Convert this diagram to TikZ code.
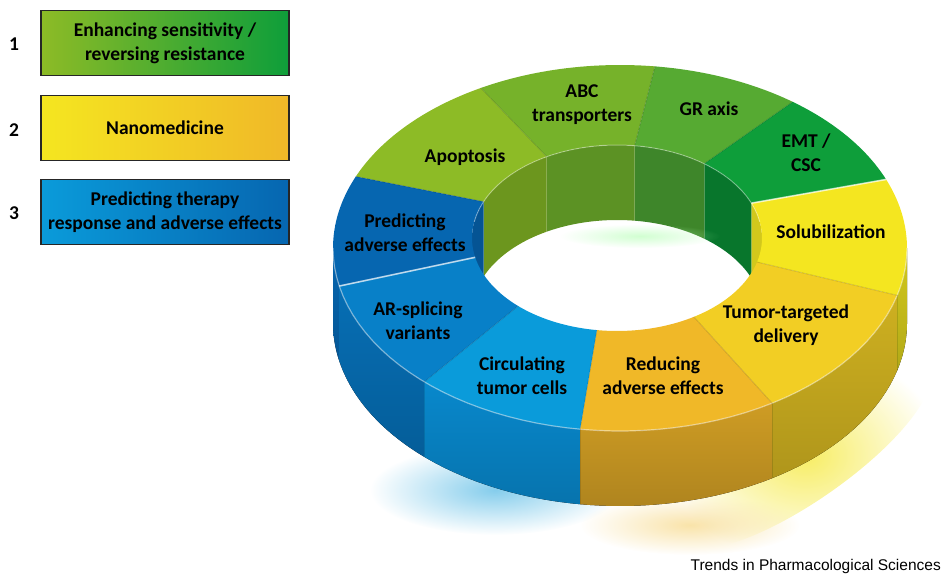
\documentclass[tikz,border=0pt]{standalone}
\usepackage{fontspec}
\setmainfont{Carlito}
\newfontfamily\creditfont{Liberation Sans}
\usetikzlibrary{fadings}
\tikzfading[name=glowfade, inner color=transparent!0, outer color=transparent!100]
\definecolor{apoptop}{RGB}{141,187,38}
\definecolor{apopin}{RGB}{108,150,30}
\definecolor{abctop}{RGB}{118,178,42}
\definecolor{abcin}{RGB}{92,146,36}
\definecolor{grtop}{RGB}{86,170,50}
\definecolor{grin}{RGB}{62,134,42}
\definecolor{emttop}{RGB}{14,158,58}
\definecolor{emtin}{RGB}{8,118,44}
\definecolor{soltop}{RGB}{244,230,32}
\definecolor{solside}{RGB}{210,200,28}
\definecolor{tumtop}{RGB}{242,206,36}
\definecolor{tumside}{RGB}{206,176,32}
\definecolor{redtop}{RGB}{240,184,40}
\definecolor{redside}{RGB}{206,156,36}
\definecolor{cirtop}{RGB}{10,155,218}
\definecolor{cirside}{RGB}{8,136,204}
\definecolor{arstop}{RGB}{8,128,200}
\definecolor{arsside}{RGB}{6,110,180}
\definecolor{pretop}{RGB}{6,102,176}
\definecolor{prein}{RGB}{5,84,148}
% ring pieces: start angle, end angle, colour
\newcommand{\ringtop}[3]{%
  \fill[#3] plot[domain=#1:#2,samples=25] ({620+287*cos(\x)},{248-183*sin(\x)})
    -- plot[domain=#2:#1,samples=25] ({617+145*cos(\x)},{238-93*sin(\x)}) -- cycle;}
\newcommand{\outerwall}[3]{%
  \fill[top color=#3, bottom color=#3!85!black] plot[domain=#1:#2,samples=20] ({620+287*cos(\x)},{248-183*sin(\x)})
    -- plot[domain=#2:#1,samples=20] ({620+287*cos(\x)},{323-183*sin(\x)}) -- cycle;}
\newcommand{\innerwall}[3]{%
  \fill[#3] plot[domain=#1:#2,samples=20] ({617+145*cos(\x)},{238-93*sin(\x)})
    -- plot[domain=#2:#1,samples=20] ({617+145*cos(\x)},{313-93*sin(\x)}) -- cycle;}

\begin{document}
\begin{tikzpicture}[x=1pt, y=-1pt,
  seglabel/.style={font=\bfseries\fontsize{19.5}{24}\selectfont, align=center, text=black, inner sep=0pt},
  legendbox/.style={draw=black!85, line width=1.2pt, minimum width=248pt, minimum height=65pt,
    align=center, font=\bfseries\fontsize{19.5}{24}\selectfont, inner sep=0pt},
  legendnum/.style={font=\bfseries\fontsize{19.5}{20}\selectfont, inner sep=0pt}]
\useasboundingbox (0,0) rectangle (942,575);

% glow under the ring
\fill[cirtop!50, path fading=glowfade] (495,490) ellipse[x radius=125, y radius=45];
\fill[soltop!70, path fading=glowfade, rotate around={35:(805,455)}] (805,455) ellipse[x radius=150, y radius=45];
\fill[redtop!40, path fading=glowfade] (690,525) ellipse[x radius=110, y radius=30];

% outer walls (front half)
\outerwall{180}{192}{pretop}
\outerwall{192}{227}{arsside}
\outerwall{227}{262}{cirside}
\outerwall{262}{302}{redside}
\outerwall{302}{345}{tumside}
\outerwall{345}{360}{solside}

% inner walls (back half)
\innerwall{0}{22}{solside}
\innerwall{22}{53}{emtin}
\innerwall{53}{83}{grin}
\innerwall{83}{119}{abcin}
\innerwall{119}{157}{apopin}
\innerwall{157}{180}{prein}
\fill[green!30!white, path fading=glowfade, opacity=0.6] (640,236) ellipse[x radius=80, y radius=12];

% top faces
\ringtop{119}{157}{apoptop}
\ringtop{83}{119}{abctop}
\ringtop{53}{83}{grtop}
\ringtop{22}{53}{emttop}
\ringtop{-15}{22}{soltop}
\ringtop{-58}{-15}{tumtop}
\ringtop{-98}{-58}{redtop}
\ringtop{-133}{-98}{cirtop}
\ringtop{-168}{-133}{arstop}
\ringtop{157}{192}{pretop}

% edge highlights
\draw[white, opacity=0.45, line width=1.2pt] plot[domain=180:360,samples=60] ({620+287*cos(\x)},{248-183*sin(\x)});
\draw[white, opacity=0.35, line width=1pt] plot[domain=10:170,samples=40] ({617+145*cos(\x)},{238-93*sin(\x)});
\foreach \t in {119,83,53,-15,-58,-98,-133,157}
  \draw[black, opacity=0.12, line width=1pt] ({617+145*cos(\t)},{238-93*sin(\t)}) -- ({620+287*cos(\t)},{248-183*sin(\t)});
\foreach \t in {22,192}
  \draw[white, opacity=0.7, line width=1.6pt] ({617+145*cos(\t)},{238-93*sin(\t)}) -- ({620+287*cos(\t)},{248-183*sin(\t)});
\foreach \t in {262,302,345,227}
  \draw[black, opacity=0.12, line width=1pt] ({620+287*cos(\t)},{248-183*sin(\t)}) -- ({620+287*cos(\t)},{323-183*sin(\t)});

% segment labels
\node[seglabel] (lblapop) at (465,157) {Apoptosis};
\node[seglabel] (lblabc) at (582,105) {ABC\\transporters};
\node[seglabel] (lblgr) at (709,109) {GR axis};
\node[seglabel] (lblemt) at (806,153) {EMT /\\CSC};
\node[seglabel] (lblsol) at (831,232) {Solubilization};
\node[seglabel] (lbltum) at (786,325) {Tumor-targeted\\delivery};
\node[seglabel] (lblred) at (663,376) {Reducing\\adverse effects};
\node[seglabel] (lblcir) at (522,376) {Circulating\\tumor cells};
\node[seglabel] (lblars) at (418,321) {AR-splicing\\variants};
\node[seglabel] (lblpre) at (405,233) {Predicting\\adverse effects};

% legend
\node[legendbox, left color=apoptop, right color=emttop] (box1) at (165,43) {Enhancing sensitivity /\\reversing resistance};
\node[legendbox, left color=soltop, right color=redtop] (box2) at (165,128) {Nanomedicine};
\node[legendbox, left color=cirtop, right color=pretop] (box3) at (165,212) {Predicting therapy\\response and adverse effects};
\node[legendnum] (num1) at (14,44) {1};
\node[legendnum] (num2) at (14,130) {2};
\node[legendnum] (num3) at (14,213) {3};

\node[anchor=east, inner sep=0pt, font=\creditfont\fontsize{15.5}{15.5}\selectfont] (credit) at (941,566) {Trends in Pharmacological Sciences};
\end{tikzpicture}
\end{document}
